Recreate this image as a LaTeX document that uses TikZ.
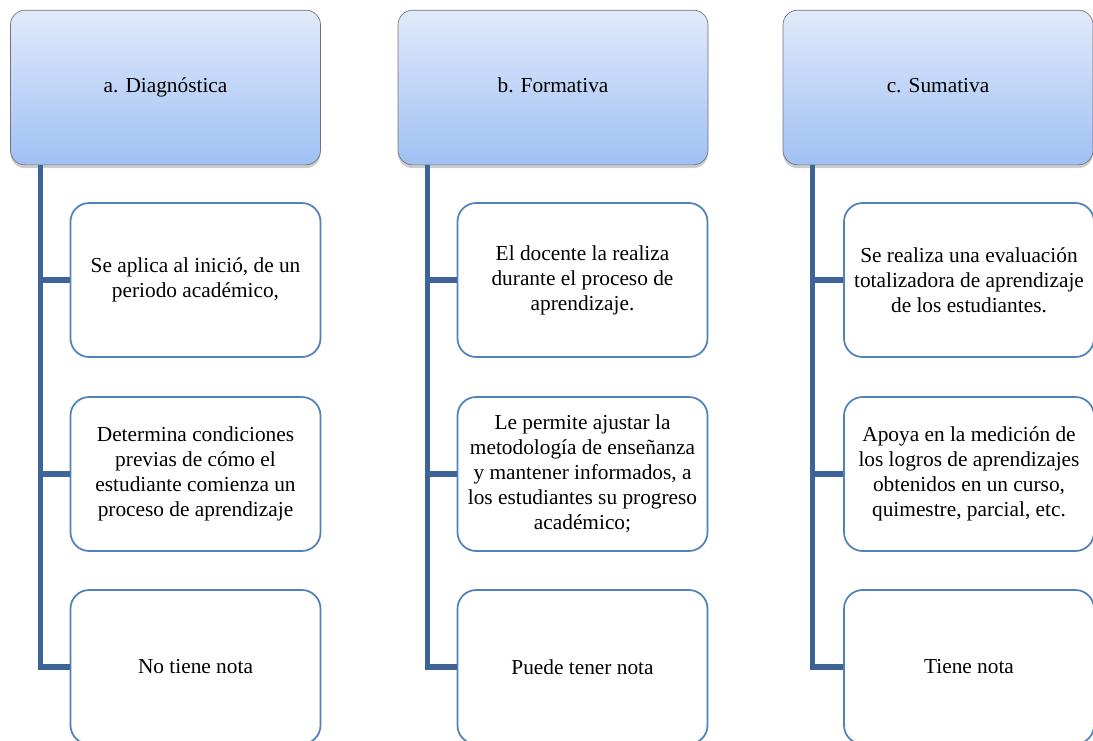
\documentclass[tikz,border=0pt]{standalone}
\usepackage{fontspec}
\setmainfont{Liberation Serif}
\usetikzlibrary{shadows}

\definecolor{headtop}{RGB}{225,234,251}
\definecolor{headbot}{RGB}{160,192,244}
\definecolor{boxline}{RGB}{79,129,189}
\definecolor{trunkcol}{RGB}{62,100,151}

\begin{document}
\begin{tikzpicture}[x=0.75pt, y=-0.75pt,
  head/.style={draw=black!55, line width=0.5pt, rounded corners=11pt,
    top color=headtop, bottom color=headbot,
    drop shadow={opacity=0.4, shadow xshift=0pt, shadow yshift=-2.5pt},
    text height=11pt, text depth=3.5pt,
    minimum width=232.5pt, minimum height=116pt, font=\fontsize{16}{18.75}\selectfont},
  item/.style={draw=boxline, line width=1.3pt, fill=white, rounded corners=14pt,
    minimum width=187.5pt, minimum height=115.5pt, align=center,
    font=\fontsize{16}{18.75}\selectfont},
  trunk/.style={draw=trunkcol, line width=3.8pt}]

\useasboundingbox (0,0) rectangle (1093,740);

\node[head] (ta) at (165.5,87.5) {a. Diagnóstica} ;
\node[head] (tb) at (553.0,87.5) {b. Formativa} ;
\node[head] (tc) at (938.0,87.5) {c. Sumativa} ;

\node[item] (a1) at (195.5,280) {Se aplica al inició, de un\\periodo académico,} ;
\node[item] (a2) at (195.5,474) {Determina condiciones\\previas de cómo el\\estudiante comienza un\\proceso de aprendizaje} ;
\node[item] (a3) at (195.5,667) {No tiene nota} ;

\node[item] (b1) at (582.5,280) {El docente la realiza\\durante el proceso de\\aprendizaje.} ;
\node[item] (b2) at (582.5,474) {Le permite ajustar la\\metodología de enseñanza\\y mantener informados, a\\los estudiantes su progreso\\académico;} ;
\node[item] (b3) at (582.5,667) {Puede tener nota} ;

\node[item] (c1) at (969.0,280) {Se realiza una evaluación\\totalizadora de aprendizaje\\de los estudiantes.} ;
\node[item] (c2) at (969.0,474) {Apoya en la medición de\\los logros de aprendizajes\\obtenidos en un curso,\\quimestre, parcial, etc.} ;
\node[item] (c3) at (969.0,667) {Tiene nota} ;

\coordinate (ra) at ([xshift=22.5pt]ta.south west) ;
\coordinate (rb) at ([xshift=22.5pt]tb.south west) ;
\coordinate (rc) at ([xshift=22.5pt]tc.south west) ;

\draw[trunk] (ra) |- (a3.west) ;
\draw[trunk] (ra |- a1.west) -- (a1.west) ;
\draw[trunk] (ra |- a2.west) -- (a2.west) ;

\draw[trunk] (rb) |- (b3.west) ;
\draw[trunk] (rb |- b1.west) -- (b1.west) ;
\draw[trunk] (rb |- b2.west) -- (b2.west) ;

\draw[trunk] (rc) |- (c3.west) ;
\draw[trunk] (rc |- c1.west) -- (c1.west) ;
\draw[trunk] (rc |- c2.west) -- (c2.west) ;

\end{tikzpicture}
\end{document}
